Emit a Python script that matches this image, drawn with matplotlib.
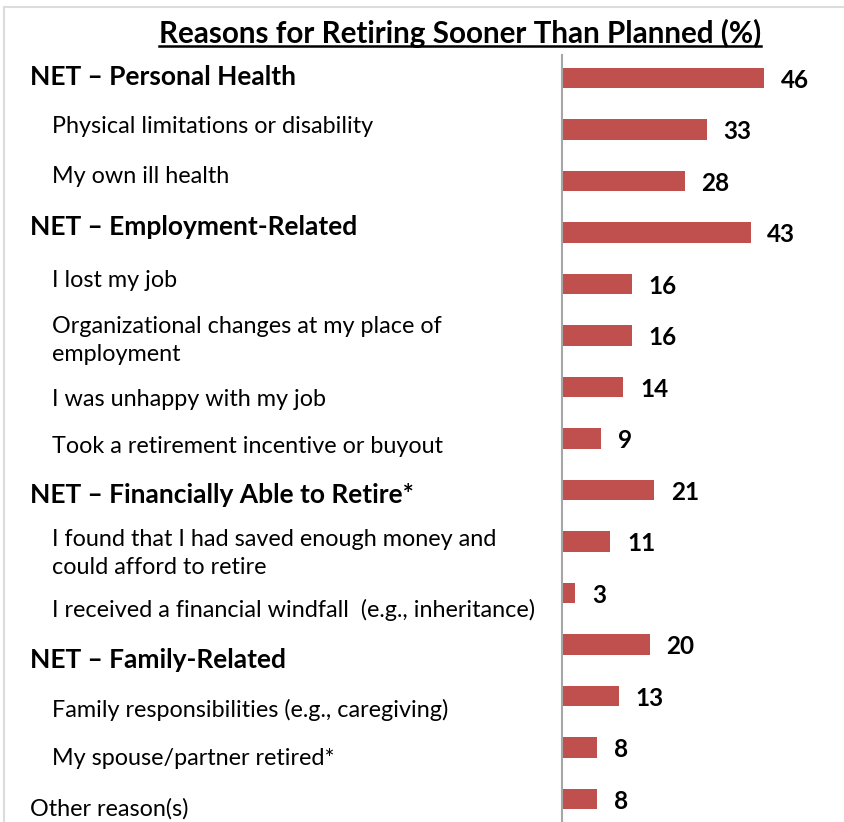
import matplotlib
matplotlib.use("Agg")
import matplotlib.pyplot as plt
from matplotlib.lines import Line2D
import matplotlib.transforms as mtransforms

plt.rcParams['font.family'] = ['Lato', 'DejaVu Sans']

# data
categories = [
    "NET \u2013 Personal Health",
    "Physical limitations or disability",
    "My own ill health",
    "NET \u2013 Employment-Related",
    "I lost my job",
    "Organizational changes at my place of\nemployment",
    "I was unhappy with my job",
    "Took a retirement incentive or buyout",
    "NET \u2013 Financially Able to Retire*",
    "I found that I had saved enough money and\ncould afford to retire",
    "I received a financial windfall  (e.g., inheritance)",
    "NET \u2013 Family-Related",
    "Family responsibilities (e.g., caregiving)",
    "My spouse/partner retired*",
    "Other reason(s)",
]
values = [46, 33, 28, 43, 16, 16, 14, 9, 21, 11, 3, 20, 13, 8, 8]
is_net = [True, False, False, True, False, False, False, False,
          True, False, False, True, False, False, False]
indent = [0, 1, 1, 0, 1, 1, 1, 1, 0, 1, 1, 0, 1, 1, 0]
# label vertical nudge vs bar center, pixels (down = positive)
label_shift = [-1, -3, -5, -6, -4, 5, 12, 8, 5, 12, 17, 16, 14, 11, 10]

W, H = 845, 822
fig = plt.figure(figsize=(W / 100, H / 100), dpi=100)

# light frame at top/left
fig.add_artist(Line2D([4 / W, 4 / W], [0, 1 - 7 / H], color="#dcdcdc", lw=1.5,
                      transform=fig.transFigure))
fig.add_artist(Line2D([4 / W, 1], [1 - 7 / H, 1 - 7 / H], color="#dcdcdc", lw=1.5,
                      transform=fig.transFigure))

ax = fig.add_axes([562 / W, 0, (W - 562) / W, (H - 55) / H])
n = len(values)
ypos = list(range(n))
ax.barh(ypos, values, height=0.39, color="#C0504D", edgecolor="none")
ax.set_xlim(0, 64.5)
ax.set_ylim(n - 1 + 0.447, -0.447)
for s in ["top", "right", "bottom"]:
    ax.spines[s].set_visible(False)
ax.spines["left"].set_color("#a6a6a6")
ax.spines["left"].set_linewidth(1.5)
ax.set_xticks([])
ax.set_yticks([])

for y, v in zip(ypos, values):
    ax.annotate(str(v), (v, y), xytext=(12, -1.5), textcoords="offset points",
                ha="left", va="center", fontsize=17.5, fontweight="bold", color="black")

trans = mtransforms.blended_transform_factory(fig.transFigure, ax.transData)
for y, lab, net, ind, sh in zip(ypos, categories, is_net, indent, label_shift):
    x = (30 + 22 * ind) / W
    ax.text(x, y, lab, transform=trans + mtransforms.ScaledTranslation(0, -sh / 100, fig.dpi_scale_trans),
            ha="left", va="center", fontsize=19 if net else 16.8,
            fontweight="bold" if net else "normal", color="black",
            linespacing=1.4, clip_on=False)

title = fig.text(460 / W, 1 - 33 / H, "Reasons for Retiring Sooner Than Planned (%)",
                 ha="center", va="center", fontsize=21.3, fontweight="bold")
fig.canvas.draw()
bb = title.get_window_extent().transformed(fig.transFigure.inverted())
fig.add_artist(Line2D([bb.x0, bb.x1], [bb.y0 + 2 / H, bb.y0 + 2 / H], color="black",
                      lw=1.8, transform=fig.transFigure))

fig.savefig("out.png", dpi=100)
